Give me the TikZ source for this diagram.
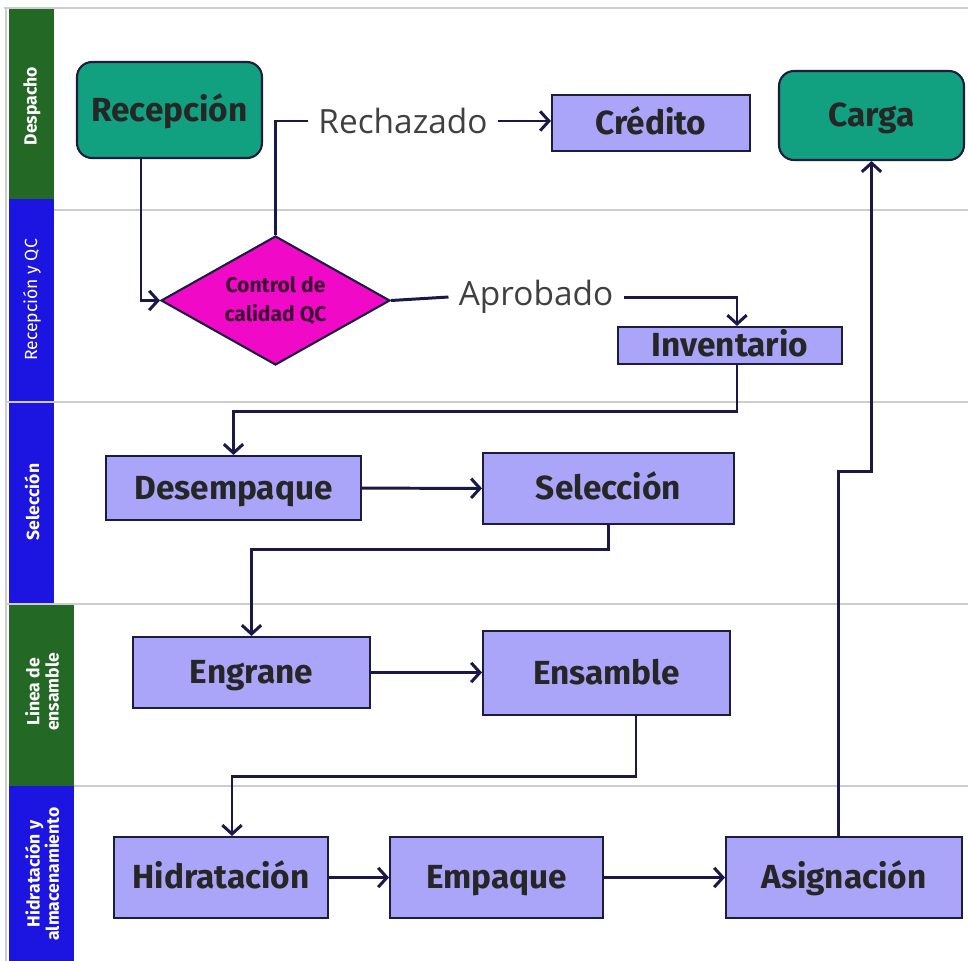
\documentclass[tikz,border=0pt]{standalone}
\usepackage{fontspec}
\setmainfont{Fira Sans}
\newfontfamily\flowfont{Open Sans}
\usetikzlibrary{shapes,arrows.meta,calc}
\definecolor{laneGreen}{RGB}{35,104,36}
\definecolor{laneBlue}{RGB}{28,20,224}
\definecolor{laneRule}{RGB}{205,205,205}
\definecolor{termTeal}{RGB}{17,160,128}
\definecolor{boxLavender}{RGB}{170,165,249}
\definecolor{boxLine}{RGB}{28,28,62}
\definecolor{qcMagenta}{RGB}{240,10,200}
\definecolor{flowLine}{RGB}{26,24,70}

\begin{document}
\begin{tikzpicture}[
            x=0.02cm, y=-0.02cm,
            block/.style={rectangle, draw=boxLine, line width=1.2pt, fill=boxLavender, inner sep=0pt, text height=13pt, text depth=0pt, text=black!85, font=\fontsize{19}{22}\selectfont\bfseries},
            terminal/.style={block, rounded corners=0.3cm, fill=termTeal},
            decision/.style={diamond, draw=boxLine, line width=1.2pt, fill=qcMagenta, aspect=1.8, inner sep=0pt, align=center, text=black!75!qcMagenta, font=\fontsize{12}{16}\selectfont\bfseries},
            lanetag/.style={rotate=90, text=white, align=center, font=\fontsize{10}{11}\selectfont\bfseries},
            flowtag/.style={inner sep=0.2cm, text=black!75, font=\flowfont\fontsize{19}{22}\selectfont},
            arrow/.style={-{Straight Barb[length=5pt,width=11pt]}, line width=1.7pt, draw=flowLine},
            rule/.style={draw=laneRule, line width=1.2pt}
        ]
            \useasboundingbox (0,0) rectangle (968,961);

            % swimlanes
            \fill[laneGreen] (9,9) rectangle (54,199);
            \fill[laneBlue] (9,199) rectangle (54,402);
            \fill[laneBlue] (9,402) rectangle (54,604);
            \fill[laneGreen] (9,604) rectangle (74,786);
            \fill[laneBlue] (9,786) rectangle (74,961);
            \draw[rule] (4,8) -- (968,8);
            \draw[rule] (6,8) -- (6,961);
            \draw[rule] (54,210) -- (968,210);
            \draw[rule] (6,402) -- (968,402);
            \draw[rule] (6,604) -- (968,604);
            \draw[rule] (74,786) -- (968,786);
            \node[lanetag] (laneDesp) at (32,106) {Despacho};
            \node[lanetag, font=\fontsize{10}{11}\selectfont] (laneQC) at (32,300) {Recepción y QC};
            \node[lanetag] (laneSel) at (32,502) {Selección};
            \node[lanetag] (laneLin) at (42,692) {Linea de\\ensamble};
            \node[lanetag] (laneHid) at (42,874) {Hidratación y\\almacenamiento};

            % nodes
            \node[terminal, minimum width=3.7cm, minimum height=1.92cm] (recep) at (169.5,110) {Recepción};
            \node[block, minimum width=3.96cm, minimum height=1.12cm] (credito) at (651,123) {Crédito};
            \node[terminal, minimum width=3.7cm, minimum height=1.78cm] (carga) at (871.5,115.5) {Carga};
            \node[decision, minimum width=4.58cm, minimum height=2.58cm] (qc) at (275.5,300.5) {Control de\\calidad QC};
            \node[block, minimum width=4.48cm, minimum height=0.74cm] (inv) at (730,345.5) {Inventario};
            \node[block, minimum width=5.1cm, minimum height=1.28cm] (desemp) at (233.5,488) {Desempaque};
            \node[block, minimum width=5.02cm, minimum height=1.42cm] (selec) at (608.5,488.5) {Selección};
            \node[block, minimum width=4.74cm, minimum height=1.42cm] (engr) at (251.5,672.5) {Engrane};
            \node[block, minimum width=4.94cm, minimum height=1.68cm] (ensam) at (606.5,673) {Ensamble};
            \node[block, minimum width=4.28cm, minimum height=1.62cm] (hidra) at (221,877.5) {Hidratación};
            \node[block, minimum width=4.26cm, minimum height=1.62cm] (empaq) at (496.5,877.5) {Empaque};
            \node[block, minimum width=4.72cm, minimum height=1.62cm] (asig) at (844,877.5) {Asignación};

            \node[flowtag] (rech) at (403,121) {Rechazado};
            \node[flowtag] (aprob) at (536,297) {Aprobado};

            % connectors
            \draw[arrow] ([xshift=-0.57cm]recep.south) |- (qc.west);
            \draw[arrow, -] (qc.north) |- (rech.west);
            \draw[arrow] (rech.east) -- (credito.west |- rech.east);
            \draw[arrow, -] (qc.east) -- (aprob.west);
            \draw[arrow] (aprob.east) -| ([xshift=0.14cm]inv.north);
            \draw[arrow] ([xshift=0.14cm]inv.south) -- ++(0,46) -| (desemp.north);
            \draw[arrow] (desemp) -- (selec);
            \draw[arrow] (selec.south) -- ++(0,24) -| (engr.north);
            \draw[arrow] (engr) -- (ensam.west |- engr);
            \draw[arrow] ([xshift=0.59cm]ensam.south) -- ++(0,60) -| ([xshift=0.22cm]hidra.north);
            \draw[arrow] (hidra) -- (empaq);
            \draw[arrow] (empaq) -- (asig);
            \draw[arrow] ([xshift=-0.12cm]asig.north) -- ++(0,-364) -| (carga.south);
        \end{tikzpicture}
\end{document}
